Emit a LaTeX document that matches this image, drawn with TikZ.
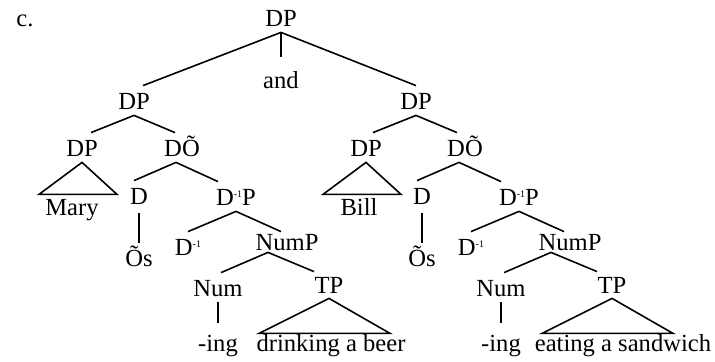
\documentclass[tikz,border=0pt]{standalone}
\usepackage{fontspec}
\setmainfont{Liberation Serif}
\newcommand{\dinv}{D\raisebox{4.4pt}{\fontsize{5}{5}\selectfont -1}}

\begin{document}
\begin{tikzpicture}[x=0.5pt, y=-0.5pt,
    catnode/.style={font=\fontsize{12.3}{14}\selectfont, inner sep=1pt, text height=11pt, text depth=1.5pt, anchor=base},
    branch/.style={draw=black, line width=0.8pt}
  ]
    \useasboundingbox (0,0) rectangle (715,362);
    \node[catnode, anchor=base west] (lbl) at (14,27) {c.};

    \node[catnode] (dpTop) at (281,27) {DP};
    \node[catnode] (andW) at (281,89) {and};
    \node[catnode] (dpL) at (134,110) {DP};
    \node[catnode] (dpR) at (416,110) {DP};

    % left conjunct
    \node[catnode] (dpMary) at (82,157) {DP};
    \node[catnode] (mary) at (72,216) {Mary};
    \node[catnode] (dbarL) at (182,157) {DÕ};
    \node[catnode] (dL) at (139,205) {D};
    \node[catnode] (osL) at (139,267) {Õs};
    \node[catnode] (dinvPL) at (236,206) {\dinv P};
    \node[catnode] (dinvL) at (188,256) {\dinv};
    \node[catnode] (numPL) at (287,251) {NumP};
    \node[catnode] (numL) at (218,297) {Num};
    \node[catnode] (ingL) at (218,351) {-ing};
    \node[catnode] (tpL) at (329,293) {TP};
    \node[catnode] (vpL) at (331,351) {drinking a beer};

    % right conjunct
    \node[catnode] (dpBill) at (366,157) {DP};
    \node[catnode] (bill) at (359,216) {Bill};
    \node[catnode] (dbarR) at (465,157) {DÕ};
    \node[catnode] (dR) at (422,205) {D};
    \node[catnode] (osR) at (422,267) {Õs};
    \node[catnode] (dinvPR) at (519,206) {\dinv P};
    \node[catnode] (dinvR) at (471,256) {\dinv};
    \node[catnode] (numPR) at (570,251) {NumP};
    \node[catnode] (numR) at (501,297) {Num};
    \node[catnode] (ingR) at (501,351) {-ing};
    \node[catnode] (tpR) at (612,293) {TP};
    \node[catnode] (vpR) at (623,351) {eating a sandwich};

    \draw[branch] (dpTop.south) -- ([xshift=4.5pt]dpL.north);
    \draw[branch, shorten >=4pt] (dpTop.south) -- (andW.north);
    \draw[branch] (dpTop.south) -- (dpR.north);

    \draw[branch] (dpL.south) -- ([xshift=4.5pt]dpMary.north);
    \draw[branch] (dpL.south) -- ([xshift=-3.5pt]dbarL.north);
    \draw[branch] (dpMary.south) -- ++(-43,32) -- ++(78,0) -- cycle;
    \draw[branch] ([xshift=-3pt]dbarL.south) -- ([xshift=-2.5pt]dL.north);
    \draw[branch] ([xshift=-3pt]dbarL.south) -- ([xshift=-9pt]dinvPL.north);
    \draw[branch, shorten <=1.5pt] (dL.south) -- (osL.north);
    \draw[branch] (dinvPL.south) -- (dinvL.north);
    \draw[branch] (dinvPL.south) -- ([xshift=-3pt, yshift=-2.5pt]numPL.north);
    \draw[branch] ([xshift=-9.5pt, yshift=2pt]numPL.south) -- ([xshift=1.5pt]numL.north);
    \draw[branch] ([xshift=-9.5pt, yshift=2pt]numPL.south) -- ([xshift=-7.5pt, yshift=-1.5pt]tpL.north);
    \draw[branch, shorten >=2pt] (numL.south) -- (ingL.north);
    \draw[branch] (tpL.south) -- ++(-70,35) -- ++(131,0) -- cycle;

    \draw[branch] (dpR.south) -- ([xshift=3.5pt]dpBill.north);
    \draw[branch] (dpR.south) -- ([xshift=-4pt]dbarR.north);
    \draw[branch] (dpBill.south) -- ++(-43,32) -- ++(78,0) -- cycle;
    \draw[branch] ([xshift=-3pt]dbarR.south) -- ([xshift=-2.5pt]dR.north);
    \draw[branch] ([xshift=-3pt]dbarR.south) -- ([xshift=-9pt]dinvPR.north);
    \draw[branch, shorten <=1.5pt] (dR.south) -- (osR.north);
    \draw[branch] (dinvPR.south) -- (dinvR.north);
    \draw[branch] (dinvPR.south) -- ([xshift=-3pt, yshift=-2.5pt]numPR.north);
    \draw[branch] ([xshift=-9.5pt, yshift=2pt]numPR.south) -- ([xshift=1.5pt]numR.north);
    \draw[branch] ([xshift=-9.5pt, yshift=2pt]numPR.south) -- ([xshift=-7.5pt, yshift=-1.5pt]tpR.north);
    \draw[branch, shorten >=2pt] (numR.south) -- (ingR.north);
    \draw[branch] (tpR.south) -- ++(-70,35) -- ++(131,0) -- cycle;
  \end{tikzpicture}
\end{document}
